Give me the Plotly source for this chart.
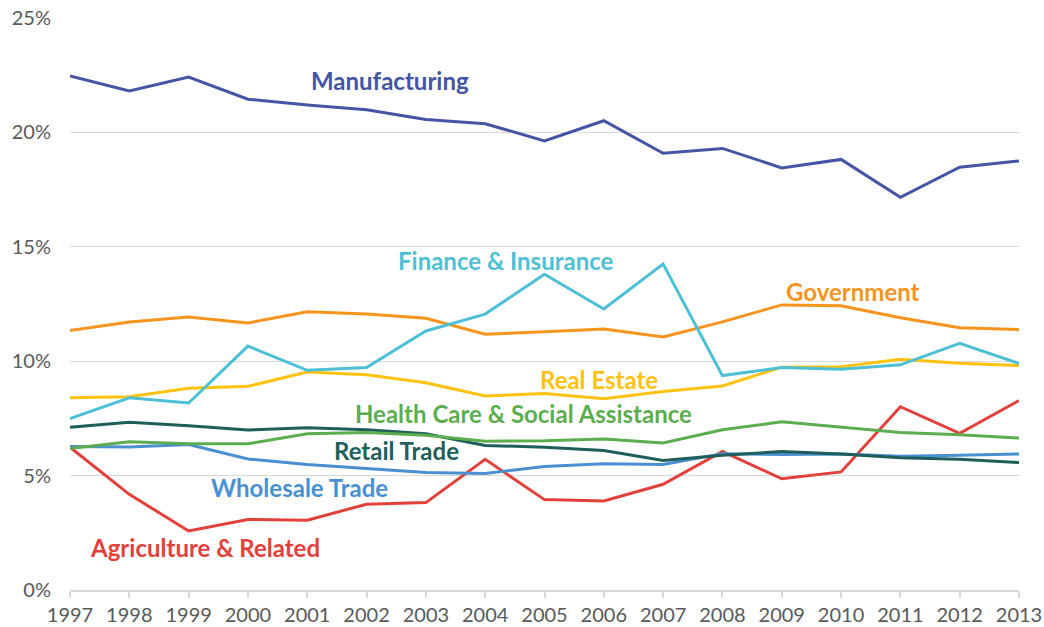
import plotly.graph_objects as go

years = list(range(1997, 2014))

manufacturing = [22.47, 21.81, 22.42, 21.45, 21.20, 20.99, 20.56, 20.38, 19.63, 20.51, 19.09, 19.30, 18.45, 18.82, 17.16, 18.48, 18.75]
government = [11.34, 11.71, 11.93, 11.67, 12.16, 12.06, 11.88, 11.18, 11.29, 11.41, 11.06, 11.72, 12.46, 12.42, 11.90, 11.46, 11.38]
finance = [7.49, 8.40, 8.17, 10.66, 9.60, 9.72, 11.32, 12.06, 13.80, 12.28, 14.25, 9.37, 9.72, 9.65, 9.84, 10.78, 9.90]
real_estate = [8.40, 8.45, 8.82, 8.90, 9.53, 9.41, 9.06, 8.48, 8.59, 8.36, 8.68, 8.92, 9.74, 9.76, 10.09, 9.91, 9.81]
health = [6.18, 6.48, 6.39, 6.39, 6.83, 6.88, 6.76, 6.50, 6.52, 6.60, 6.43, 7.00, 7.35, 7.11, 6.88, 6.79, 6.64]
retail = [7.11, 7.33, 7.18, 6.99, 7.09, 7.00, 6.83, 6.32, 6.24, 6.10, 5.66, 5.89, 6.05, 5.94, 5.78, 5.71, 5.57]
wholesale = [6.27, 6.25, 6.36, 5.73, 5.49, 5.30, 5.14, 5.09, 5.40, 5.52, 5.49, 5.96, 5.92, 5.94, 5.85, 5.89, 5.94]
agriculture = [6.24, 4.18, 2.58, 3.08, 3.05, 3.75, 3.82, 5.71, 3.95, 3.89, 4.62, 6.06, 4.86, 5.16, 8.01, 6.85, 8.28]

y_ticks = [0, 5, 10, 15, 20, 25]
y_tick_labels = ["0%", "5%", "10%", "15%", "20%", "25%"]

series = [
    ("Agriculture & Related", agriculture, "#e2413b", 1999.28, 1.85),
    ("Wholesale Trade", wholesale, "#4a8fd0", 2000.87, 4.5),
    ("Retail Trade", retail, "#1e5e5b", 2002.5, 6.08),
    ("Health Care & Social Assistance", health, "#5cad50", 2004.65, 7.7),
    ("Real Estate", real_estate, "#ffc20f", 2005.92, 9.2),
    ("Government", government, "#f7941e", 2010.2, 13.05),
    ("Finance & Insurance", finance, "#4ec0d5", 2004.35, 14.4),
    ("Manufacturing", manufacturing, "#4654a4", 2002.4, 22.25),
]

fig = go.Figure()
for name, vals, color, lx, ly in series:
    fig.add_trace(go.Scatter(
        x=years, y=vals, mode="lines", name=name,
        line=dict(color=color, width=3), showlegend=False,
    ))
    fig.add_annotation(
        x=lx, y=ly, text="<b>" + name + "</b>", showarrow=False,
        font=dict(family="Lato, Open Sans, sans-serif", size=24, color=color),
        xanchor="center", yanchor="middle",
    )

fig.update_layout(
    width=1044, height=627,
    margin=dict(l=70, r=25, t=18, b=37),
    plot_bgcolor="white", paper_bgcolor="white",
    font=dict(family="Lato, Open Sans, sans-serif", size=20, color="#595959"),
)
fig.update_xaxes(
    range=[1997, 2013], tickmode="array", tickvals=years,
    ticktext=[str(y) for y in years], automargin=False,
    showgrid=False, showline=True, linecolor="#d9d9d9", linewidth=1.5,
    ticks="outside", tickcolor="#d9d9d9", ticklen=6, tickwidth=1.5,
    zeroline=False, tickfont=dict(size=20, color="#595959"),
)
fig.update_yaxes(
    range=[0, 25], tickmode="array", tickvals=y_ticks, ticktext=y_tick_labels,
    showgrid=True, gridcolor="#d9d9d9", gridwidth=1.2, zeroline=False,
    showline=False, ticks="", ticklabelstandoff=18, automargin=False,
    tickfont=dict(size=20, color="#595959"),
)

fig.write_html(
    "out.html",
    config={"displayModeBar": False},
    post_script="document.body.style.margin='0';document.body.style.overflow='hidden';",
)
